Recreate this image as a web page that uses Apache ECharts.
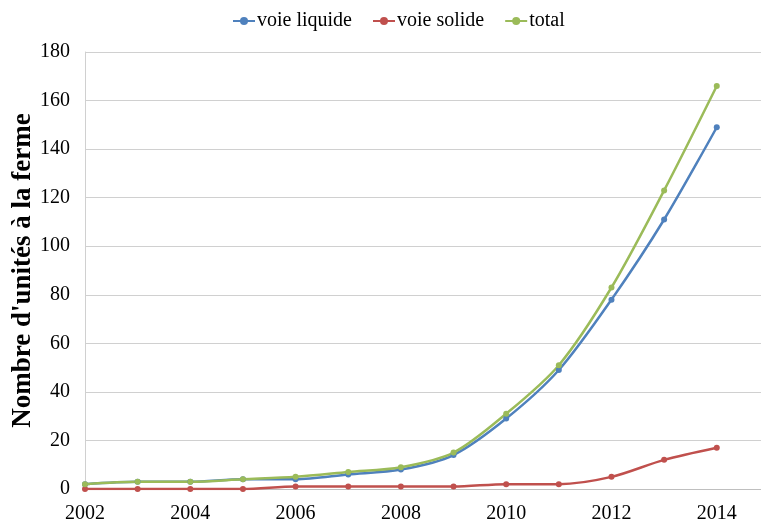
<!DOCTYPE html>
<html>
<head>
<meta charset="utf-8">
<script src="https://cdn.jsdelivr.net/npm/echarts@6/dist/echarts.min.js"></script>
<style>html,body{margin:0;padding:0;background:#fff}#c{width:761px;height:521px}</style>
</head>
<body>
<div id="c"></div>
<script>
const years = [2002,2003,2004,2005,2006,2007,2008,2009,2010,2011,2012,2013,2014];
const voieLiquide = [2,3,3,4,4,6,8,14,29,49,78,111,149];
const voieSolide = [0,0,0,0,1,1,1,1,2,2,5,12,17];
const total = [2,3,3,4,5,7,9,15,31,51,83,123,166];
const seriesNames = ['voie liquide','voie solide','total'];
const yTitle = "Nombre d'unités à la ferme";

const pairs = arr => years.map((y,i)=>[y,arr[i]]);
const font = 'Liberation Serif';
const chart = echarts.init(document.getElementById('c'), null, {renderer:'canvas'});
const mk = (name, data, color) => ({
  name, type:'line', data: pairs(data), smooth: 0.3,
  symbol:'circle', symbolSize:6,
  lineStyle:{color, width:2.5}, itemStyle:{color},
  emphasis:{disabled:true}
});
chart.setOption({
  animation:false,
  textStyle:{fontFamily:font},
  legend:{
    top:6, left:227, itemGap:20, itemWidth:22, itemHeight:10,
    textStyle:{fontFamily:font, fontSize:20, color:'#000', padding:[0,0,0,-3]},
    data: seriesNames
  },
  grid:{left:85, right:0, top:52, bottom:32, containLabel:false, outerBoundsMode:'none'},
  xAxis:{
    type:'value', min:2002, max:2014.84, interval:2,
    axisLine:{show:true, lineStyle:{color:'#bfbfbf'}},
    axisTick:{show:false},
    splitLine:{show:false},
    axisLabel:{fontFamily:font, fontSize:20, color:'#000', margin:15,
      formatter: v => (Number.isInteger(v) && (v-2002)%2===0) ? String(v) : ''}
  },
  yAxis:{
    type:'value', min:0, max:180, interval:20,
    name: yTitle, nameLocation:'middle', nameGap:48, nameMoveOverlap:false,
    nameTextStyle:{fontFamily:font, fontSize:27, fontWeight:'bold', color:'#000'},
    axisLine:{show:true, lineStyle:{color:'#d0d0d0'}},
    axisTick:{show:false},
    splitLine:{lineStyle:{color:'#d0d0d0', width:1}},
    axisLabel:{fontFamily:font, fontSize:20, color:'#000', margin:15}
  },
  series:[
    mk(seriesNames[0], voieLiquide, '#4F81BD'),
    mk(seriesNames[1], voieSolide, '#C0504D'),
    mk(seriesNames[2], total, '#9BBB59')
  ]
});
</script>
</body>
</html>
